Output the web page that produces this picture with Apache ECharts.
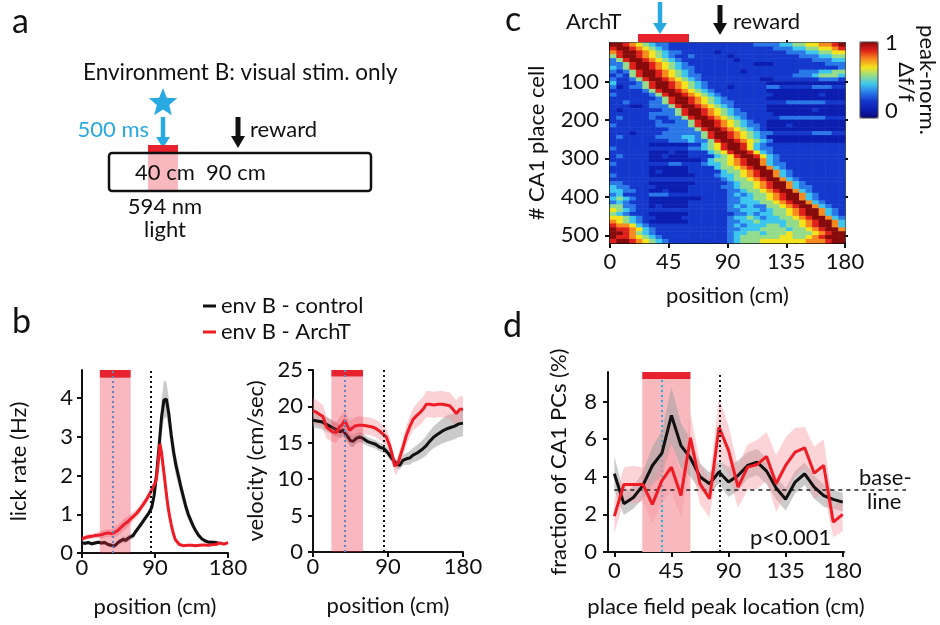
<!DOCTYPE html>
<html>
<head>
<meta charset="utf-8">
<title>ArchT place cells</title>
<script src="https://cdn.jsdelivr.net/npm/echarts@6.0.0/dist/echarts.min.js"></script>
<style>
  html, body { margin: 0; padding: 0; background: #fff; }
  #chart { width: 940px; height: 625px; }
</style>
</head>
<body>
<div id="chart"></div>
<script>
const FONT = 'Lato';
const FS = 22;

// stimulus / landmark positions (cm)
const lightStart = 22, lightEnd = 60, stimPos = 37.5, rewardPos = 85;
const baseline = 3.3;

// ---------- b (left): lick rate (Hz) ----------
const lickCtrlX = [0,4,8,12,16,20,24,28,32,36, 39,42,45,48,51,54,57,60,63,66, 70,74,78,82,86,89,92,95,98,101,
  104,107,110,113,116,119,122,125,128,131, 134,137,140,144,148,152,156,160,164,168];
const lickCtrlY = [0.26,0.25,0.27,0.24,0.26,0.28,0.26,0.27,0.22,0.2, 0.17,0.22,0.28,0.32,0.35,0.33,0.38,0.42,0.45,0.55,
  0.66,0.78,0.9,1.02,1.18,1.5,2.05,2.75,3.5,3.95, 3.98,3.6,3.05,2.6,2.25,1.98,1.7,1.45,1.2,1.0,
  0.85,0.7,0.58,0.45,0.36,0.31,0.28,0.28,0.27,0.26];
const lickCtrlSem = [0.05,0.05,0.05,0.05,0.05,0.05,0.05,0.05,0.05,0.05, 0.06,0.06,0.07,0.07,0.08,0.08,0.08,0.08,0.08,0.08,
  0.08,0.08,0.08,0.08,0.1,0.15,0.25,0.35,0.45,0.5, 0.45,0.4,0.35,0.3,0.28,0.25,0.22,0.2,0.18,0.15,
  0.12,0.1,0.08,0.06,0.05,0.05,0.05,0.05,0.05,0.05];

const lickArchX = [0,4,8,12,16,20,24,28,32,36, 40,44,48,52,56,60,64,68,72,76, 80,84,87,90,92,94,96,98,100,102,
  104,106,108,110,112,115,120,125,130,135, 140,145,150,155,160,165,170,175,180];
const lickArchY = [0.36,0.4,0.42,0.43,0.45,0.46,0.47,0.5,0.52,0.5, 0.53,0.58,0.66,0.74,0.8,0.88,0.96,1.04,1.15,1.27,
  1.4,1.55,1.68,1.8,1.95,2.35,2.82,2.6,2.25,1.9, 1.53,1.2,0.95,0.74,0.55,0.35,0.22,0.19,0.2,0.2,
  0.19,0.2,0.21,0.2,0.21,0.22,0.26,0.23,0.27];
const lickArchSem = [0.05,0.06,0.07,0.07,0.07,0.08,0.1,0.1,0.1,0.1, 0.12,0.14,0.15,0.15,0.14,0.13,0.12,0.1,0.1,0.1,
  0.1,0.1,0.12,0.15,0.2,0.25,0.3,0.28,0.25,0.2, 0.18,0.15,0.12,0.1,0.06,0.04,0.03,0.03,0.03,0.03,
  0.03,0.03,0.03,0.03,0.03,0.03,0.04,0.04,0.04];

// ---------- b (right): velocity (cm/sec) ----------
const velCtrlX = [0,5,10,15,20,25,30, 33,36,39,42,45,48, 52,56,60,65,70,75,80,85,90,95,
  100,104,108,112,116,120,125,130,135,140, 145,150,155,160,165,170,175,180];
const velCtrlY = [18.1,18.0,17.9,17.6,17.3,17.0,16.7, 16.5,16.8,16.2,15.8,15.3,15.2, 15.6,15.8,15.6,15.2,15.0,14.8,14.4,14.2,13.6,12.8,
  12.1,11.9,12.6,12.8,12.9,13.3,13.6,14.0,14.5,15.2, 15.8,16.2,16.6,16.9,17.1,17.3,17.6,17.7];
const velCtrlSem = [1.0,1.0,1.0,1.0,1.0,1.0,0.9, 0.9,0.9,0.8,0.8,0.8,0.8, 0.7,0.7,0.7,0.6,0.6,0.6,0.6,0.6,0.6,0.6,
  0.6,0.6,0.7,0.8,0.9,1.0,1.1,1.2,1.3,1.4, 1.5,1.6,1.7,1.8,1.8,1.8,1.8,1.8];

const velArchX = [0,4,8,12,16,20,24,28,32,35, 38,41,44,47,50,55,60,65,70,75, 80,84,88,92,95,98,100,102,105,108,
  112,116,120,124,128,132,136,140,145,150, 155,160,164,168,172,176,180];
const velArchY = [19.4,19.2,18.9,18.6,17.2,16.8,16.5,16.4,17.2,17.5, 18.1,17.4,16.7,17.0,17.3,17.4,17.4,17.3,17.2,17.0,
  16.6,16.2,15.8,14.6,13.4,11.8,11.6,12.2,13.3,14.4, 16.0,17.2,18.2,18.7,19.1,19.6,20.3,20.3,20.2,20.3,
  20.3,20.2,20.1,19.6,19.0,19.6,19.6];
const velArchSem = [1.7,1.7,1.6,1.6,1.5,1.5,1.4,1.4,1.4,1.4, 1.3,1.3,1.3,1.2,1.2,1.2,1.2,1.2,1.2,1.2,
  1.2,1.2,1.2,1.2,1.1,1.0,1.0,1.0,1.1,1.2, 1.3,1.4,1.5,1.6,1.7,1.7,1.8,1.8,1.8,1.8,
  1.8,1.8,1.8,1.8,1.8,1.8,1.8];

// ---------- d: fraction of CA1 PCs (%) by place field peak ----------
const dBins = [0,7.5,15,22.5,30,37.5,45,52.5,60,67.5,75,82.5,90,97.5,105,112.5,120,127.5,135,142.5,150,157.5,165,172.5,180];
const dCtrl = [4.16,2.57,2.9,3.54,4.6,5.26,7.26,5.66,5.0,4.0,3.63,4.25,3.72,4.07,4.6,4.78,4.3,3.4,2.8,3.72,4.16,3.45,3.0,2.8,2.65];
const dCtrlSem = [0.9,0.6,0.6,0.7,1.0,1.2,1.5,1.2,1.0,0.7,0.6,0.6,0.8,0.8,0.7,0.7,0.7,0.6,0.6,0.6,0.6,0.6,0.6,0.5,0.5];
const dArch = [1.91,3.59,3.59,3.59,2.53,3.8,4.51,3.0,6.07,3.63,2.83,6.64,5.4,3.45,4.51,4.65,5.08,3.63,4.6,5.31,5.54,4.19,4.6,1.59,2.0];
const dArchSem = [0.9,0.9,1.0,0.9,1.0,1.2,1.3,1.2,1.3,1.1,1.0,1.6,1.3,1.1,1.2,1.3,1.3,1.5,1.5,1.3,1.1,1.4,1.4,0.8,0.9];

// ---------- c: peak-normalised dF/F, 52 rows (10 cells each) x 36 bins (5 cm), levels 0-9 ----------
const heatRows = [
  "998765 433222 222222 222233 334455 667789",
  "899876 543222 222222 222222 233344 556678",
  "789987 654332 222212 222222 222333 445566",
  "589987 654322 322222 122222 222223 334455",
  "358998 765432 222222 212222 222222 233344",
  "335899 876543 222222 222211 122222 222333",
  "435899 876543 322222 222222 222222 222223",
  "323589 987654 322222 221222 222223 334455",
  "232589 987654 332222 222222 222233 345554",
  "322358 998765 432222 222221 122222 223332",
  "422235 899876 543222 222222 111111 111111",
  "312335 899876 543222 122222 332222 233322",
  "222223 589987 654322 222222 111111 111111",
  "322222 358998 765432 222222 211111 112111",
  "222222 235899 876543 222222 111111 111111",
  "223222 335899 876543 322222 222333 333222",
  "222112 333589 987654 322222 111111 111111",
  "212222 223358 998765 432222 111111 121111",
  "222222 333358 998765 433222 211111 111111",
  "232222 322335 899876 543222 223333 333222",
  "222222 232233 589987 654322 111111 111111",
  "322222 233333 589987 654332 111211 111111",
  "222222 222333 358998 765432 111111 111111",
  "222122 223333 335899 876543 322222 233322",
  "232222 233334 435899 876543 111111 111111",
  "222222 222333 433589 987654 311111 111111",
  "222222 111111 224568 998643 222222 222222",
  "322222 222222 334568 998643 322222 222222",
  "222222 111211 222456 899864 322222 222222",
  "232222 112111 222245 689986 432222 222222",
  "222222 111111 112455 678997 432222 222222",
  "322222 222332 223445 678997 433222 222222",
  "222222 111111 222245 567899 743222 222222",
  "222222 121111 222224 556789 974322 222222",
  "322222 111111 122234 456789 974322 222222",
  "222222 222222 222223 455678 997432 222222",
  "332222 111111 122222 345567 899743 222222",
  "433222 211111 222223 345567 899743 322222",
  "443322 112111 222222 334556 789974 322222",
  "342222 333222 222222 343455 678997 432222",
  "454322 111111 112222 334455 678997 432222",
  "343222 111111 222222 334445 567899 743222",
  "553322 121111 222222 343433 556789 974322",
  "654322 222222 222222 334443 455678 997432",
  "543222 111111 222222 233434 455678 997432",
  "665432 211112 222222 344543 445567 899743",
  "765432 111111 222222 334454 444556 789974",
  "877643 222222 222222 343444 554556 789974",
  "988764 322222 222222 334445 555455 678997",
  "998754 322222 222222 344554 555655 567899",
  "988765 432222 222222 345555 556655 678999",
  "899876 543222 222222 345556 666666 777899"
];

const bTicksX = [0, 90, 180];
const cTicksX = [0, 45, 90, 135, 180];
const cTicksY = [100, 200, 300, 400, 500];
const dTicksX = [0, 45, 90, 135, 180];

const CTRL = '#111111', ARCH = '#ee1c25', BAR = '#e5222e';
const PINK_OVER = 'rgba(236,40,60,0.33)';
const PINK_BACK = '#f7b9be';
// one colour per level 0..9 (jet-like)
const jet = ['#0a0a78', '#0c1eb0', '#1438cc', '#2a78e8', '#3cc6ee', '#94dc8c', '#f4e41e', '#f68a1e', '#e0201a', '#860a0a'];

const chart = echarts.init(document.getElementById('chart'), null, {renderer: 'canvas'});

function axis(o) {
  return {
    type: 'value', gridIndex: o.grid, position: o.pos, min: o.min, max: o.max, inverse: !!o.inverse,
    name: o.name || '', nameLocation: 'middle', nameGap: o.nameGap || 0,
    nameTextStyle: {color: '#111', fontSize: FS, fontFamily: FONT},
    axisLine: {show: true, onZero: false, lineStyle: {color: '#111', width: o.lineW || 2}},
    axisTick: {show: true, customValues: o.ticks, length: o.tickLen || 5, lineStyle: {color: '#111', width: 2}},
    axisLabel: {show: !!o.labels, customValues: o.ticks, margin: o.margin || 8, color: '#111', fontSize: FS, fontFamily: FONT},
    splitLine: {show: false}
  };
}

function line(name, xi, yi, xs, ys, color) {
  return {type: 'line', name, xAxisIndex: xi, yAxisIndex: yi, data: xs.map((x, i) => [x, ys[i]]),
    symbol: 'none', color, lineStyle: {color, width: 3}, z: 4, silent: true};
}

// mean +/- sem band, drawn as one polygon through the axis scales
function band(xi, yi, xs, ys, sem, fill) {
  const lo = xs.map((x, i) => [x, ys[i] - sem[i]]);
  const hi = xs.map((x, i) => [x, ys[i] + sem[i]]);
  return {
    type: 'custom', xAxisIndex: xi, yAxisIndex: yi, z: 3, silent: true,
    data: xs.map((x, i) => [x, lo[i][1], hi[i][1]]),
    encode: {x: 0, y: [1, 2]},
    renderItem(params, api) {
      if (params.dataIndex !== 0) return null;
      const pts = lo.map(p => api.coord(p)).concat(hi.slice().reverse().map(p => api.coord(p)));
      return {type: 'polygon', shape: {points: pts}, style: {fill}};
    }
  };
}

const dotted = (color) => ({color, width: 2, type: [2, 3]});

// light window + markers for b panels (pink drawn over the traces)
function windowB(xi, yi, pinkTop, top, stimColor) {
  return {
    type: 'line', name: 'win' + xi, xAxisIndex: xi, yAxisIndex: yi, data: [], silent: true,
    markArea: {z: 10, silent: true, data: [
      [{coord: [lightStart, 0], itemStyle: {color: PINK_OVER}}, {coord: [lightEnd, pinkTop]}],
      [{coord: [lightStart, pinkTop], itemStyle: {color: BAR}}, {coord: [lightEnd, top]}]
    ]},
    markLine: {z: 11, silent: true, symbol: ['none', 'none'], label: {show: false}, data: [
      {xAxis: stimPos, lineStyle: dotted(stimColor)},
      {xAxis: rewardPos, lineStyle: dotted('#111')}
    ]}
  };
}

const heatData = [];
heatRows.forEach((row, r) => {
  row.replace(/ /g, '').split('').forEach((ch, c) => heatData.push([c, r, +ch]));
});
const heatColNames = heatRows[0].replace(/ /g, '').split('').map((_, c) => String(c * 5));
const heatRowNames = heatRows.map((_, r) => String(r * 10));

const series = [];
// b left
series.push(band(0, 0, lickCtrlX, lickCtrlY, lickCtrlSem, 'rgba(150,150,150,0.5)'));
series.push(band(0, 0, lickArchX, lickArchY, lickArchSem, 'rgba(245,140,150,0.45)'));
series.push(line('env B - control', 0, 0, lickCtrlX, lickCtrlY, CTRL));
series.push(line('env B - ArchT', 0, 0, lickArchX, lickArchY, ARCH));
series.push(windowB(0, 0, 4.53, 4.73, '#5b86c2'));
// b right
series.push(band(1, 1, velCtrlX, velCtrlY, velCtrlSem, 'rgba(150,150,150,0.5)'));
series.push(band(1, 1, velArchX, velArchY, velArchSem, 'rgba(245,140,150,0.4)'));
series.push(line('env B - control', 1, 1, velCtrlX, velCtrlY, CTRL));
series.push(line('env B - ArchT', 1, 1, velArchX, velArchY, ARCH));
series.push(windowB(1, 1, 24.1, 25, '#5b86c2'));
// c heatmap
const heatIndex = series.length;
series.push({type: 'heatmap', xAxisIndex: 2, yAxisIndex: 2, data: heatData, progressive: 0, silent: true,
  itemStyle: {borderWidth: 0}, emphasis: {disabled: true}});
// d
series.push({
  type: 'line', name: 'dwin', xAxisIndex: 5, yAxisIndex: 5, data: [], silent: true,
  markArea: {z: 1, silent: true, data: [
    [{coord: [lightStart, 0], itemStyle: {color: PINK_BACK}}, {coord: [lightEnd, 9.2]}],
    [{coord: [lightStart, 9.2], itemStyle: {color: BAR}}, {coord: [lightEnd, 9.57]}]
  ]},
  markLine: {z: 2, silent: true, symbol: ['none', 'none'], label: {show: false}, data: [
    [{coord: [stimPos, 0], lineStyle: dotted('#29a9e1')}, {coord: [stimPos, 9.2]}]
  ]}
});
series.push(band(5, 5, dBins, dCtrl, dCtrlSem, 'rgba(160,160,160,0.55)'));
series.push(band(5, 5, dBins, dArch, dArchSem, 'rgba(248,150,160,0.42)'));
series.push(line('env B - control', 5, 5, dBins, dCtrl, CTRL));
series.push(line('env B - ArchT', 5, 5, dBins, dArch, ARCH));
series.push({
  type: 'line', name: 'drew', xAxisIndex: 5, yAxisIndex: 5, data: [], silent: true,
  markLine: {z: 6, silent: true, symbol: ['none', 'none'], label: {show: false}, data: [
    {xAxis: 83, lineStyle: dotted('#111')}
  ]}
});

chart.setOption({
  animation: false,
  textStyle: {fontFamily: FONT},
  grid: [
    {left: 82, top: 370, width: 146, height: 183, outerBoundsMode: 'none'},
    {left: 313, top: 370, width: 150, height: 182, outerBoundsMode: 'none'},
    {left: 610, top: 43, width: 235, height: 200, outerBoundsMode: 'none'},
    {left: 608, top: 372, width: 236, height: 180, outerBoundsMode: 'none'}
  ],
  xAxis: [
    axis({grid: 0, pos: 'bottom', min: 0, max: 180, ticks: bTicksX, labels: true, name: 'position (cm)', nameGap: 43, margin: 4}),
    axis({grid: 1, pos: 'bottom', min: 0, max: 180, ticks: bTicksX, labels: true, name: 'position (cm)', nameGap: 43, margin: 4}),
    {type: 'category', gridIndex: 2, position: 'bottom', data: heatColNames, show: false},
    axis({grid: 2, pos: 'bottom', min: 0, max: 180, ticks: cTicksX, labels: true, name: 'position (cm)', nameGap: 42, margin: 8}),
    axis({grid: 2, pos: 'top', min: 0, max: 180, ticks: [135], labels: false, lineW: 1.5, tickLen: 3}),
    axis({grid: 3, pos: 'bottom', min: -5, max: 181, ticks: dTicksX, labels: true, name: 'place field peak location (cm)', nameGap: 44, margin: 8})
  ],
  yAxis: [
    axis({grid: 0, pos: 'left', min: 0, max: 4.73, ticks: [0, 1, 2, 3, 4], labels: true, name: 'lick rate (Hz)', nameGap: 52, margin: 9}),
    axis({grid: 1, pos: 'left', min: 0, max: 25, ticks: [0, 5, 10, 15, 20, 25], labels: true, name: 'velocity (cm/sec)', nameGap: 46, margin: 10}),
    {type: 'category', gridIndex: 2, position: 'left', inverse: true, data: heatRowNames, show: false},
    axis({grid: 2, pos: 'left', min: 0, max: 520, inverse: true, ticks: cTicksY, labels: true, name: '# CA1 place cell', nameGap: 62, margin: 11}),
    axis({grid: 2, pos: 'right', min: 0, max: 520, inverse: true, ticks: cTicksY, labels: false, lineW: 1.5, tickLen: 3}),
    axis({grid: 3, pos: 'left', min: 0, max: 9.57, ticks: [0, 2, 4, 6, 8], labels: true, name: 'fraction of CA1 PCs (%)', nameGap: 38, margin: 11})
  ],
  visualMap: {
    type: 'continuous', seriesIndex: heatIndex, min: 0, max: 9, calculable: false, hoverLink: false,
    orient: 'vertical', left: 860, top: 42, padding: 0, itemWidth: 18, itemHeight: 76,
    inRange: {color: jet}
  },
  legend: {
    data: ['env B - control', 'env B - ArchT'], orient: 'vertical', left: 198, top: 290,
    itemWidth: 13, itemHeight: 3, itemGap: 4, icon: 'rect', selectedMode: false,
    textStyle: {color: '#111', fontSize: FS, fontFamily: FONT}
  },
  series
});

// ---------- annotations ----------
function txt(x, y, s, size, extra) {
  return {type: 'text', x, y, z: 100, silent: true,
    style: Object.assign({text: s, font: size + 'px ' + FONT, fill: '#111', align: 'left', verticalAlign: 'middle',
      textAlign: 'left', textVerticalAlign: 'middle'}, extra || {})};
}
function rtxt(x, y, s, size, rot) {
  const t = txt(x, y, s, size, {align: 'center', textAlign: 'center'});
  t.rotation = rot;
  return t;
}
function arrow(x, y0, y1, color, shaftW, headW, headH) {
  return [
    {type: 'rect', z: 100, silent: true, shape: {x: x - shaftW / 2, y: y0, width: shaftW, height: y1 - y0 - headH + 1}, style: {fill: color}},
    {type: 'polygon', z: 100, silent: true, shape: {points: [[x - headW / 2, y1 - headH], [x + headW / 2, y1 - headH], [x, y1]]}, style: {fill: color}}
  ];
}
function star(cx, cy, R, r) {
  const pts = [];
  for (let i = 0; i < 10; i++) {
    const a = -Math.PI / 2 + i * Math.PI / 5, rr = i % 2 ? r : R;
    pts.push([cx + rr * Math.cos(a), cy + rr * Math.sin(a)]);
  }
  return pts;
}

const BLUE = '#29a9e1';
const base0 = chart.convertToPixel({xAxisIndex: 5, yAxisIndex: 5}, [0, baseline]);

const g = [
  // panel letters
  txt(12, 22, 'a', 34), txt(12, 322, 'b', 34), txt(505, 20, 'c', 34), txt(503, 326, 'd', 34),
  // panel a
  txt(83, 73, 'Environment B: visual stim. only', 22.5),
  {type: 'polygon', z: 100, silent: true, shape: {points: star(163, 103, 15, 6.5)}, style: {fill: BLUE}},
  ...arrow(163, 117, 148, BLUE, 4.5, 14, 11),
  txt(149, 130, '500 ms', FS, {fill: BLUE, align: 'right', textAlign: 'right'}),
  ...arrow(238, 117, 148, '#111', 5, 14, 12),
  txt(250, 130, 'reward', FS),
  {type: 'rect', z: 99, silent: true, shape: {x: 148, y: 154, width: 30, height: 36}, style: {fill: PINK_BACK}},
  {type: 'rect', z: 100, silent: true, shape: {x: 148, y: 145, width: 30, height: 8}, style: {fill: BAR}},
  {type: 'rect', z: 100, silent: true, shape: {x: 109, y: 153, width: 262, height: 38, r: 3},
    style: {fill: 'none', stroke: '#111', lineWidth: 2.5}},
  txt(135, 173, '40 cm', FS), txt(206, 173, '90 cm', FS),
  txt(165, 207, '594 nm', FS, {align: 'center', textAlign: 'center'}),
  txt(165, 230, 'light', FS, {align: 'center', textAlign: 'center'}),
  // panel c
  txt(566, 22, 'ArchT', FS),
  {type: 'rect', z: 100, silent: true, shape: {x: 638, y: 34, width: 51, height: 8}, style: {fill: BAR}},
  ...arrow(660, 2, 34, BLUE, 4.5, 14, 11),
  ...arrow(720, 5, 35, '#111', 5, 14, 12),
  txt(733, 22, 'reward', FS),
  {type: 'rect', z: 100, silent: true, shape: {x: 860, y: 42, width: 18, height: 76}, style: {fill: 'none', stroke: '#444', lineWidth: 1}},
  txt(885, 43, '1', FS), txt(885, 111, '0', FS),
  rtxt(906, 82, 'Δf/f', FS, -Math.PI / 2),
  rtxt(927, 80, 'peak-norm.', FS, -Math.PI / 2),
  // panel d
  {type: 'line', z: 3.5, silent: true, shape: {x1: base0[0], y1: base0[1], x2: 906, y2: base0[1]},
    style: {stroke: '#222', lineWidth: 1.5, lineDash: [4, 4]}},
  txt(859, 478, 'base-', FS), txt(867, 502, 'line', FS),
  txt(750, 538, 'p<0.001', FS)
];

chart.setOption({graphic: {elements: g}});
</script>
</body>
</html>
